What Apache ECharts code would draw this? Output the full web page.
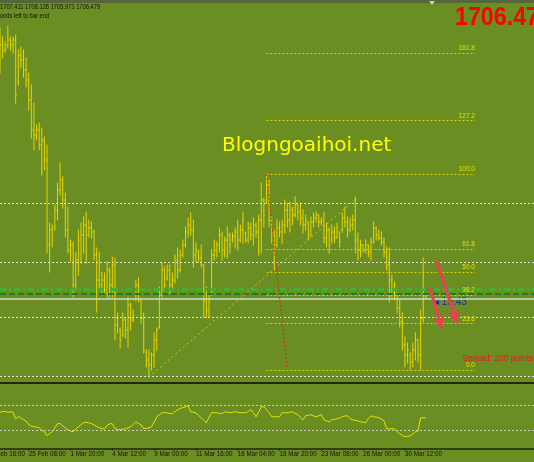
<!DOCTYPE html>
<html><head><meta charset="utf-8">
<script src="https://cdn.jsdelivr.net/npm/echarts@6/dist/echarts.min.js"></script>
<style>html,body{margin:0;padding:0;background:#6b8e23;}#c{width:534px;height:462px;}</style>
</head><body><div id="c"></div>
<script>
// ---- data (XAUUSD H4) ----
const timeLabels = ['22 Feb 16:00','25 Feb 08:00','1 Mar 20:00','4 Mar 12:00','9 Mar 00:00','11 Mar 16:00','16 Mar 04:00','18 Mar 20:00','23 Mar 08:00','26 Mar 00:00','30 Mar 12:00'];
const timeLabelBars = [-5, 11, 27, 43, 59, 75, 91, 107, 123, 139, 155];
const opens = [1801.8,1807.8,1805.8,1807.8,1809.8,1807.8,1809.8,1793.8,1803.8,1801.8,
 1797.8,1793.8,1785.8,1773.8,1771.8,1773.8,1767.8,1769.8,1761.8,1727.8,
 1733.8,1734.6,1741.8,1749.8,1753.8,1745.8,1733.8,1725.8,1727.8,1711.8,
 1721.8,1729.8,1731.8,1735.8,1731.8,1734.6,1733.0,1723.8,1713.8,1711.8,
 1713.8,1709.8,1717.8,1711.8,1719.8,1695.8,1693.8,1691.8,1697.8,1693.8,
 1703.8,1697.8,1705.8,1711.8,1705.8,1698.6,1685.0,1681.8,1679.8,1683.8,
 1689.8,1694.6,1707.8,1717.8,1714.6,1717.8,1711.8,1713.8,1721.8,1717.8,
 1723.8,1727.8,1733.0,1735.8,1733.8,1723.8,1725.0,1722.6,1719.8,1705.8,
 1701.8,1707.8,1723.8,1725.8,1727.8,1731.8,1725.8,1729.8,1731.8,1729.8,
 1731.4,1733.0,1729.8,1733.8,1732.6,1729.8,1734.6,1731.8,1735.8,1733.0,
 1737.8,1745.8,1745.8,1751.8,1737.8,1731.8,1727.8,1734.6,1733.0,1735.8,
 1741.8,1737.8,1741.8,1739.8,1743.8,1741.0,1738.6,1735.8,1737.0,1731.8,
 1737.0,1738.6,1739.8,1737.0,1737.8,1730.6,1733.8,1729.8,1733.0,1730.6,
 1733.0,1733.8,1738.6,1737.0,1733.8,1735.8,1737.8,1729.8,1725.8,1727.8,
 1725.8,1727.8,1725.0,1729.0,1734.6,1731.8,1730.6,1729.0,1725.0,1719.8,
 1713.8,1709.8,1708.6,1702.6,1697.0,1687.8,1683.8,1683.8,1681.0,1685.8,
 1689.8,1683.8,1698.6,1707.411];
const highs = [1814.6,1811.0,1809.0,1815.4,1811.0,1811.0,1811.8,1805.8,1807.0,1805.8,
 1802.6,1796.6,1791.8,1784.6,1775.8,1776.6,1774.6,1771.0,1767.8,1736.6,
 1735.8,1743.8,1752.6,1760.6,1755.0,1748.6,1743.0,1729.8,1729.0,1724.6,
 1733.8,1736.6,1739.0,1741.0,1737.8,1737.0,1733.8,1726.6,1725.0,1717.0,
 1716.6,1721.0,1718.6,1723.0,1722.6,1700.6,1694.6,1700.6,1698.6,1707.0,
 1704.6,1701.8,1713.8,1714.6,1705.8,1700.6,1685.8,1685.8,1684.6,1692.6,
 1694.6,1711.0,1720.6,1719.0,1719.8,1719.8,1716.6,1723.8,1726.6,1725.8,
 1729.8,1735.0,1738.6,1740.6,1737.8,1728.6,1725.8,1727.8,1719.8,1711.0,
 1707.8,1725.8,1729.8,1729.0,1734.6,1733.0,1731.0,1735.0,1732.6,1732.6,
 1734.6,1737.8,1735.8,1741.0,1733.0,1737.0,1736.6,1738.6,1736.6,1739.8,
 1752.6,1746.6,1756.2,1753.8,1739.0,1733.8,1737.8,1737.0,1737.8,1745.8,
 1744.6,1745.0,1743.0,1747.0,1743.8,1744.6,1741.8,1739.8,1737.0,1739.0,
 1740.6,1741.0,1739.8,1738.6,1741.0,1736.6,1734.6,1735.8,1735.0,1736.6,
 1733.0,1740.6,1743.0,1739.0,1738.6,1739.8,1747.0,1732.6,1729.8,1727.8,
 1729.8,1727.8,1730.6,1737.0,1735.0,1733.8,1733.0,1730.6,1727.0,1726.6,
 1715.8,1713.0,1708.6,1705.8,1700.6,1691.0,1688.6,1685.0,1688.6,1692.6,
 1689.8,1701.8,1722.6,1708.126];
const lows = [1796.6,1802.6,1805.0,1806.6,1805.8,1804.6,1784.6,1791.8,1798.6,1795.0,
 1791.0,1781.8,1770.6,1765.8,1769.8,1765.8,1755.8,1757.8,1724.6,1717.0,
 1727.0,1733.8,1737.8,1747.8,1742.6,1731.0,1724.6,1721.0,1707.0,1709.8,
 1715.8,1720.6,1724.6,1720.6,1731.0,1730.6,1721.8,1701.0,1709.8,1707.8,
 1708.6,1706.6,1707.0,1707.0,1689.8,1692.6,1686.6,1691.0,1690.6,1687.0,
 1693.8,1697.0,1705.8,1705.0,1696.6,1684.6,1679.0,1675.0,1677.8,1679.0,
 1685.8,1694.6,1707.0,1709.8,1713.8,1708.6,1709.8,1712.6,1714.6,1717.0,
 1723.0,1727.0,1731.0,1731.8,1719.0,1721.0,1721.0,1719.0,1699.0,1699.0,
 1699.0,1707.8,1721.8,1723.0,1725.0,1721.8,1723.0,1722.6,1724.6,1729.0,
 1726.6,1725.8,1729.0,1728.6,1729.0,1728.6,1729.8,1727.8,1731.0,1723.8,
 1724.6,1735.0,1744.6,1735.0,1728.6,1717.8,1727.0,1731.0,1728.6,1732.6,
 1735.0,1733.0,1735.8,1739.0,1737.8,1735.8,1732.6,1733.8,1729.8,1731.0,
 1735.0,1737.0,1735.0,1735.8,1728.6,1727.0,1724.6,1728.6,1728.6,1730.6,
 1727.0,1733.0,1735.0,1731.0,1733.0,1733.8,1724.6,1721.8,1723.0,1725.0,
 1724.6,1723.0,1721.8,1728.6,1729.8,1729.8,1727.8,1723.0,1717.8,1705.0,
 1707.0,1705.8,1700.6,1695.0,1685.8,1679.0,1680.6,1677.8,1679.0,1681.8,
 1681.0,1677.8,1697.0,1705.971];
const closes = [1807.8,1805.8,1807.8,1809.8,1807.8,1809.8,1787.8,1803.8,1801.8,1797.8,
 1793.8,1785.8,1773.8,1771.8,1773.8,1767.8,1769.8,1761.8,1727.8,1733.8,
 1729.8,1741.8,1749.8,1753.8,1745.8,1733.8,1725.8,1727.8,1711.8,1721.8,
 1729.8,1731.8,1735.8,1731.8,1734.6,1733.0,1723.8,1713.8,1711.8,1713.8,
 1709.8,1717.8,1711.8,1719.8,1695.8,1698.6,1689.8,1697.8,1693.8,1703.8,
 1697.8,1699.8,1711.8,1705.8,1698.6,1685.8,1681.8,1679.8,1683.8,1689.8,
 1693.8,1707.8,1717.8,1711.8,1717.8,1711.8,1713.8,1721.8,1717.8,1723.8,
 1727.8,1733.0,1735.8,1733.8,1723.8,1725.8,1722.6,1719.8,1705.8,1701.8,
 1705.8,1723.8,1725.8,1727.8,1731.8,1725.8,1729.8,1731.8,1727.8,1731.4,
 1733.0,1729.8,1733.8,1737.8,1729.8,1734.6,1731.8,1735.8,1733.0,1737.8,
 1745.8,1739.8,1751.8,1737.8,1731.8,1727.8,1734.6,1733.0,1735.8,1741.8,
 1737.8,1741.8,1739.8,1743.8,1741.0,1738.6,1735.8,1737.8,1731.8,1737.0,
 1738.6,1739.8,1737.0,1737.8,1730.6,1733.8,1727.8,1733.0,1730.6,1734.6,
 1729.0,1738.6,1737.0,1733.8,1735.8,1737.8,1729.8,1725.8,1727.8,1725.8,
 1727.8,1725.0,1729.0,1734.6,1731.8,1730.6,1729.0,1725.0,1719.8,1713.8,
 1709.8,1711.8,1702.6,1697.0,1687.8,1683.8,1685.8,1681.0,1685.8,1689.8,
 1683.8,1698.6,1709.8,1706.479];
const rsi = [57.7,59,59.3,58,58.5,58.3,47.6,51.3,49,46,
 44,38,36,34.8,34,33.2,29,26.8,20.4,24,
 26.8,33,39.6,40,36.4,33,30,28,26.8,31,
 34.8,38,41.2,42,41.2,40,38,35,33.2,32,
 31.6,37,39.6,39.6,31.6,30.5,30,30.8,31.6,33,
 34.8,39,42.8,40,38,31.6,32.5,33.2,34.8,42,
 50.8,54,57.2,57.5,57.2,56,55.6,59,62,64,
 65.5,66.8,68.4,58.8,58,57.2,53,49.2,45,41.2,
 50,57.2,57.5,57.2,56,55.6,58.8,58,57.2,58,
 58.8,58,57.2,57.5,57.2,59,62,57.2,50.8,58,
 66.8,66.8,62,57.2,50.8,50.8,50.8,50.8,57.2,57.2,
 57.2,58,58.8,56,54,50,46,52.4,53,54,
 52,50.8,52.5,54,46,44,42.8,46,46.5,47.6,
 49,50.8,52,52.4,48,46,45,44.4,42.8,42,
 41.2,48,52.4,50.8,50,49.2,47,44.4,31.6,31.6,
 31.6,31.6,27,23.6,21,18.8,19.5,20.4,23,26.8,
 28.4,49.2,49.2,49.2];
const rsiLevels = [70, 30];
const gridPrices = [1744.6, 1721.0, 1699.0, 1675.4];
const levelLinesLight = [1710.2];
const levelLinesDark = [1708.2];
const fibLevels = [0, 23.6, 38.2, 50, 61.8, 100, 127.2, 161.8];
const fibLabels = ['0.0','23.6','38.2','50.0','61.8','100.0','127.2','161.8'];
const fibHigh = 1756.2, fibLow = 1677.8, fibBarA = 102, fibBarB = 110, fibBarEnd = 181.8;
const trendLine = [[57, 1675.0], [136.6, 1746.6]];
const arrows = [[[167.2, 1721.1], [175.0, 1696.5]], [[164.6, 1710.5], [169.1, 1694.5]]];
const bigPrice = '1706.47';
const spreadText = 'Spread: 200 points';
const timerText = '19:43';

// ---- chart ----
const N = opens.length;
const ohlc = opens.map((o, i) => [i, o, closes[i], lows[i], highs[i]]);
const XMIN = 0, XMAX = 204.4;
const BARW = 534 / (XMAX - XMIN);
const SANS = "'Liberation Sans',Arial,sans-serif";
const BAR = '#e8d400';
const axisVals = timeLabelBars.filter(v => v >= XMIN);
const hiddenLabels = timeLabelBars.map((v, k) => [v, timeLabels[k]]).filter(a => a[0] < XMIN);

const chart = echarts.init(document.getElementById('c'));
const helper = (extra) => Object.assign({type: 'line', data: [], symbol: 'none', silent: true, xAxisIndex: 0, yAxisIndex: 0}, extra);

const fibData = fibLevels.map((lv, k) => {
  const p = fibLow + (fibHigh - fibLow) * lv / 100;
  return [{coord: [fibBarA, p], label: {formatter: fibLabels[k]}}, {coord: [fibBarEnd, p]}];
});

const narrowText = (x, y, text, fill, font, sx) => ({type: 'text', x: x, y: y, scaleX: sx || 0.82, silent: true,
  style: {text: text, fill: fill, font: font, verticalAlign: 'middle'}});

chart.setOption({
  backgroundColor: '#6b8e23',
  animation: false,
  grid: [
    {left: 0, right: 0, top: 4, height: 379},
    {left: 0, right: 0, top: 386, height: 62.5}
  ],
  xAxis: [
    {gridIndex: 0, type: 'value', min: XMIN, max: XMAX,
      axisLine: {show: true, onZero: false, lineStyle: {color: '#1f2a0c', width: 2}},
      axisTick: {show: false}, axisLabel: {show: false}, splitLine: {show: false}},
    {gridIndex: 1, type: 'value', min: XMIN, max: XMAX,
      axisLine: {show: true, onZero: false, lineStyle: {color: '#1f2410', width: 1.5}},
      axisTick: {show: true, customValues: axisVals, length: 2, lineStyle: {color: '#1f2410'}},
      axisLabel: {show: true, customValues: axisVals, align: 'left', margin: 3, fontSize: 6.3,
        fontFamily: SANS, color: '#111',
        formatter: v => { const k = timeLabelBars.indexOf(Math.round(v)); return k >= 0 ? timeLabels[k] : ''; }},
      splitLine: {show: false}}
  ],
  yAxis: [
    {gridIndex: 0, type: 'value', min: 1672.6, max: 1824.2, show: false, splitLine: {show: false}},
    {gridIndex: 1, type: 'value', min: 0, max: 100, show: false, splitLine: {show: false}}
  ],
  series: [
    helper({markLine: {symbol: ['none', 'none'], silent: true, label: {show: false},
      lineStyle: {color: 'rgba(236,236,226,0.9)', type: [2, 2], width: 1},
      data: gridPrices.map(p => ({yAxis: p}))}}),
    helper({markLine: {symbol: ['none', 'none'], silent: true, label: {show: false},
      lineStyle: {color: '#45b030', type: [6, 3, 2, 3], width: 3},
      data: levelLinesLight.map(p => ({yAxis: p}))}}),
    helper({markLine: {symbol: ['none', 'none'], silent: true, label: {show: false},
      lineStyle: {color: '#0a8a0a', type: [6, 3], width: 2},
      data: levelLinesDark.map(p => ({yAxis: p}))}}),
    helper({markLine: {symbol: ['none', 'none'], silent: true, label: {show: false},
      lineStyle: {color: 'rgba(205,205,200,0.85)', type: 'solid', width: 2},
      data: [{yAxis: closes[N - 1]}]}}),
    helper({markLine: {symbol: ['none', 'none'], silent: true,
      lineStyle: {color: '#d6d400', type: [2, 2], width: 1},
      label: {show: true, position: 'insideEndTop', distance: [0, 1], fontSize: 6.5, fontFamily: SANS, color: '#e2e200'},
      data: fibData}}),
    helper({markLine: {symbol: ['none', 'none'], silent: true, label: {show: false},
      lineStyle: {color: '#d8281a', type: [2, 2], width: 1},
      data: [[{coord: [fibBarA, fibHigh]}, {coord: [fibBarB, fibLow]}]]}}),
    helper({markLine: {symbol: ['none', 'none'], silent: true, label: {show: false},
      lineStyle: {color: '#cdc82a', type: [2, 3], width: 1},
      data: [[{coord: trendLine[0]}, {coord: trendLine[1]}]]}}),
    {type: 'custom', xAxisIndex: 0, yAxisIndex: 0, silent: true, data: ohlc,
      encode: {x: 0, y: [1, 2, 3, 4]},
      renderItem: (params, api) => {
        const i = api.value(0);
        const o = api.coord([i, api.value(1)]);
        const c = api.coord([i, api.value(2)]);
        const l = api.coord([i, api.value(3)]);
        const h = api.coord([i, api.value(4)]);
        const x = h[0];
        const st = {stroke: BAR, lineWidth: 1};
        return {type: 'group', children: [
          {type: 'line', shape: {x1: x, y1: h[1] - 0.5, x2: x, y2: l[1] + 0.5}, style: st},
          {type: 'line', shape: {x1: x - 1.2, y1: o[1], x2: x, y2: o[1]}, style: st},
          {type: 'line', shape: {x1: x, y1: c[1], x2: x + 1.2, y2: c[1]}, style: st}
        ]};
      }},
    helper({markLine: {symbol: ['none', 'arrow'], symbolSize: [9, 12], silent: true, label: {show: false},
      lineStyle: {color: '#ee3f52', type: 'solid', width: 3},
      data: arrows.map(a => [{coord: a[0]}, {coord: a[1]}])}}),
    {type: 'line', xAxisIndex: 1, yAxisIndex: 1, symbol: 'none', silent: true,
      data: rsi.map((v, i) => [i, v]), lineStyle: {color: '#e4e400', width: 1},
      markLine: {symbol: ['none', 'none'], silent: true, label: {show: false},
        lineStyle: {color: 'rgba(225,225,215,0.8)', type: [2, 2], width: 1},
        data: rsiLevels.map(v => ({yAxis: v}))}}
  ],
  graphic: [
    {type: 'rect', shape: {x: 0, y: 0, width: 534, height: 3}, style: {fill: '#55663a'}, silent: true},
    {type: 'polygon', shape: {points: [[429, 1], [435, 1], [432, 5]]}, style: {fill: '#c8c8c8'}, silent: true},
    narrowText(0, 7, [opens[N-1], highs[N-1], lows[N-1], closes[N-1]].map(v => v.toFixed(3)).join(' '), '#111', '7px ' + SANS),
    narrowText(-9, 16, 'seconds left to bar end', '#111', '7px ' + SANS),
    narrowText(455, 18, bigPrice, '#ff0000', 'bold 25px ' + SANS, 0.93),
    ...hiddenLabels.map(a => ({type: 'text', x: (a[0] - XMIN) * BARW + 1, y: 454, silent: true,
      style: {text: a[1], fill: '#111', font: '6.3px ' + SANS, verticalAlign: 'middle'}})),
    {type: 'text', x: 222, y: 146, silent: true, style: {text: 'Blogngoaihoi.net', fill: '#ffff00', font: '20px "DejaVu Sans"', verticalAlign: 'middle',
      shadowColor: 'rgba(0,0,0,0.7)', shadowOffsetX: 1, shadowOffsetY: 1, shadowBlur: 1}},
    {type: 'text', x: 434, y: 302, silent: true, style: {text: '◂ ' + timerText, fill: '#1a2aa0', font: '10px ' + SANS, verticalAlign: 'middle'}},
    {type: 'text', x: 462, y: 359, silent: true, style: {text: spreadText, fill: '#e41e1e', font: '8.5px ' + SANS, verticalAlign: 'middle'}}
  ]
});
</script></body></html>
